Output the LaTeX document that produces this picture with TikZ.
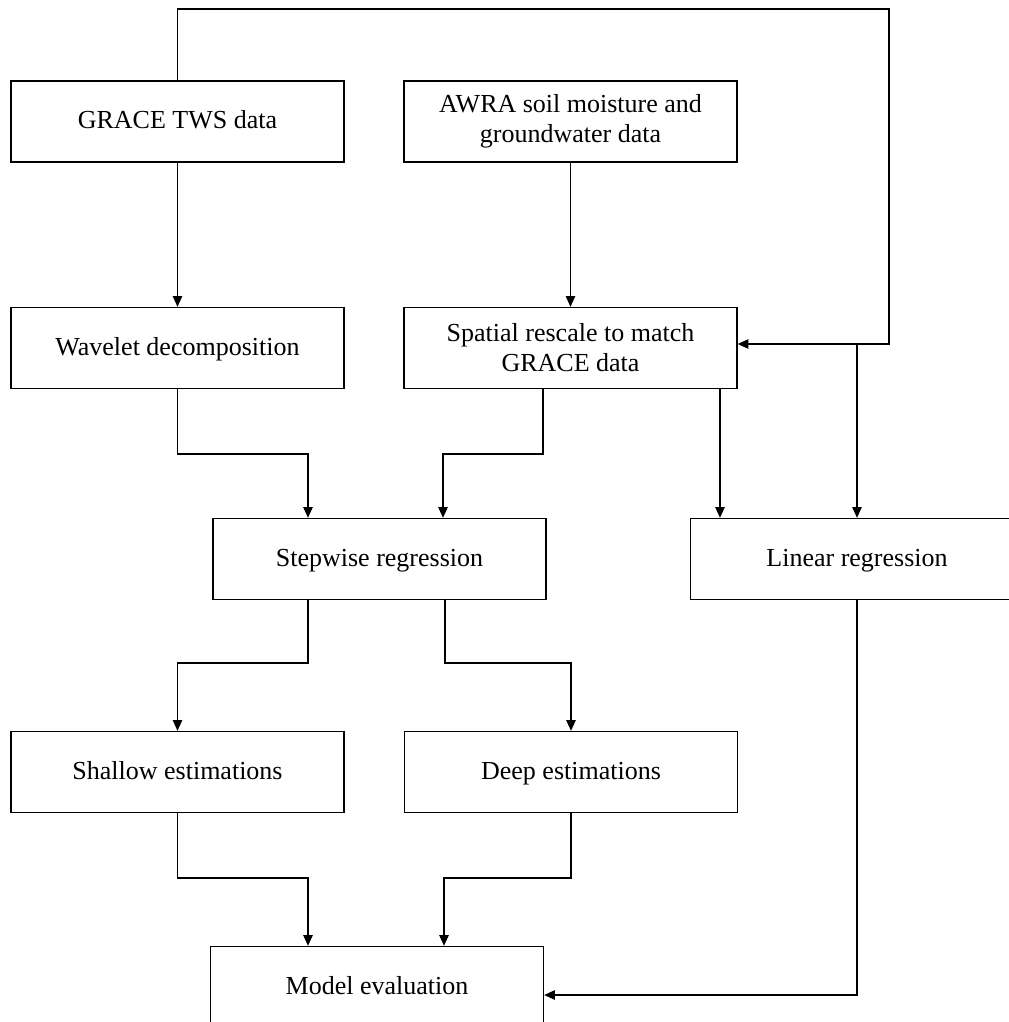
\documentclass[tikz,border=0pt]{standalone}
\usepackage{fontspec}
\setmainfont{Liberation Serif}
\usetikzlibrary{arrows.meta}

\tikzset{every picture/.style={line width=1pt}}
\tikzset{
  box/.style={draw, minimum width=249.75pt, minimum height=60.75pt, inner sep=0pt,
    align=center, font=\fontsize{19.5}{22.5}\selectfont},
  oneline/.style={box, text height=15pt, text depth=4pt},
  link/.style={-{Triangle[length=8pt,width=7pt]}}
}

\begin{document}
\begin{tikzpicture}[x=0.75pt,y=0.75pt,yscale=-1,xscale=1]
\useasboundingbox (0,0) rectangle (1009,1022);
\clip (0,0) rectangle (1009,1022);

% boxes
\node [oneline] (grace) at (177.5,121.5) {GRACE TWS data};
\node [box] (awra) at (570.5,121.5) {AWRA soil moisture and\\groundwater data};
\node [oneline] (wavelet) at (177.5,348) {Wavelet decomposition};
\node [box] (spatial) at (570.5,348) {Spatial rescale to match\\GRACE data};
\node [oneline] (stepwise) at (379.5,559) {Stepwise regression};
\node [oneline] (linear) at (857,559) {Linear regression};
\node [oneline] (shallow) at (177.5,772) {Shallow estimations};
\node [oneline] (deep) at (571,772) {Deep estimations};
\node [oneline] (model) at (377,987) {Model evaluation};

% bend points
\coordinate (w1) at (308,454);
\coordinate (s0) at (543,454);
\coordinate (s1) at (443,454);
\coordinate (l0) at (720,454);
\coordinate (c1) at (889,9);
\coordinate (c2) at (889,344);
\coordinate (c3) at (857,344);
\coordinate (t1) at (308,663);
\coordinate (t2) at (445,663);
\coordinate (m1) at (308,878);
\coordinate (m2) at (444,878);
\coordinate (m3) at (857,995);

% connectors
\draw [link] (grace) -- (wavelet);
\draw [link] (awra) -- (spatial);
\draw [link] (wavelet.south) |- (w1) -- (stepwise.north -| w1);
\draw [link] (spatial.south -| s0) -- (s0) -- (s1) -- (stepwise.north -| s1);
\draw [link] (spatial.south -| l0) -- (linear.north -| l0);
\draw [link] (grace.north) |- (c1) -- (c2) -- (spatial.east |- c2);
\draw [link] (c3) -- (linear.north);
\draw [link] (stepwise.south -| t1) -- (t1) -| (shallow.north);
\draw [link] (stepwise.south -| t2) -- (t2) -| (deep.north);
\draw [link] (shallow.south) |- (m1) -- (model.north -| m1);
\draw [link] (deep.south) |- (m2) -- (model.north -| m2);
\draw [link] (linear.south) -- (m3) -- (model.east |- m3);

\end{tikzpicture}
\end{document}
